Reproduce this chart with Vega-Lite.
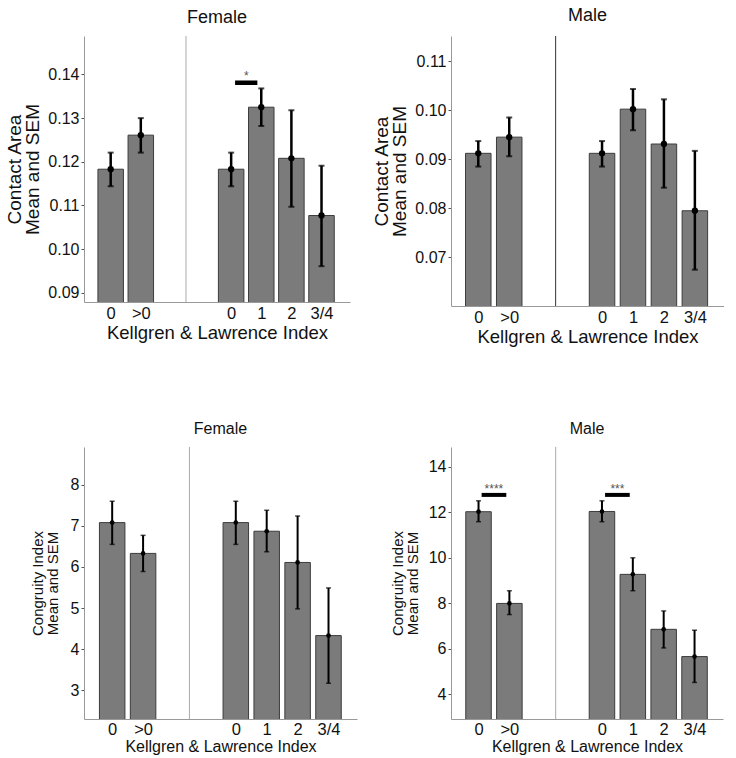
{
  "$schema": "https://vega.github.io/schema/vega-lite/v6.json",
  "padding": {"left": 5, "top": 6, "right": 0, "bottom": 0},
  "config": {"view": {"stroke": null}, "font": "Liberation Sans", "title": {"fontWeight": "normal", "color": "#111", "font": "Liberation Sans", "anchor": "middle"}},
  "datasets": {
    "bars": [
      {"panel": "ca_f", "pos": 1, "group": "0", "mean": 0.1183, "lo": 0.1144, "hi": 0.1221},
      {"panel": "ca_f", "pos": 2, "group": ">0", "mean": 0.1261, "lo": 0.1221, "hi": 0.1300},
      {"panel": "ca_f", "pos": 5, "group": "0", "mean": 0.1183, "lo": 0.1144, "hi": 0.1221},
      {"panel": "ca_f", "pos": 6, "group": "1", "mean": 0.1325, "lo": 0.1282, "hi": 0.1368},
      {"panel": "ca_f", "pos": 7, "group": "2", "mean": 0.1208, "lo": 0.1097, "hi": 0.1318},
      {"panel": "ca_f", "pos": 8, "group": "3/4", "mean": 0.1077, "lo": 0.0961, "hi": 0.1191},
      {"panel": "ca_m", "pos": 1, "group": "0", "mean": 0.0912, "lo": 0.0885, "hi": 0.0937},
      {"panel": "ca_m", "pos": 2, "group": ">0", "mean": 0.0945, "lo": 0.0906, "hi": 0.0985},
      {"panel": "ca_m", "pos": 5, "group": "0", "mean": 0.0912, "lo": 0.0885, "hi": 0.0937},
      {"panel": "ca_m", "pos": 6, "group": "1", "mean": 0.1002, "lo": 0.0959, "hi": 0.1043},
      {"panel": "ca_m", "pos": 7, "group": "2", "mean": 0.0931, "lo": 0.0842, "hi": 0.1022},
      {"panel": "ca_m", "pos": 8, "group": "3/4", "mean": 0.0795, "lo": 0.0675, "hi": 0.0917},
      {"panel": "ci_f", "pos": 1, "group": "0", "mean": 7.08, "lo": 6.55, "hi": 7.60},
      {"panel": "ci_f", "pos": 2, "group": ">0", "mean": 6.33, "lo": 5.89, "hi": 6.77},
      {"panel": "ci_f", "pos": 5, "group": "0", "mean": 7.08, "lo": 6.55, "hi": 7.60},
      {"panel": "ci_f", "pos": 6, "group": "1", "mean": 6.87, "lo": 6.37, "hi": 7.38},
      {"panel": "ci_f", "pos": 7, "group": "2", "mean": 6.11, "lo": 4.98, "hi": 7.24},
      {"panel": "ci_f", "pos": 8, "group": "3/4", "mean": 4.33, "lo": 3.17, "hi": 5.49},
      {"panel": "ci_m", "pos": 1, "group": "0", "mean": 12.03, "lo": 11.59, "hi": 12.51},
      {"panel": "ci_m", "pos": 2, "group": ">0", "mean": 7.99, "lo": 7.50, "hi": 8.55},
      {"panel": "ci_m", "pos": 5, "group": "0", "mean": 12.04, "lo": 11.59, "hi": 12.51},
      {"panel": "ci_m", "pos": 6, "group": "1", "mean": 9.27, "lo": 8.55, "hi": 10.00},
      {"panel": "ci_m", "pos": 7, "group": "2", "mean": 6.85, "lo": 6.03, "hi": 7.66},
      {"panel": "ci_m", "pos": 8, "group": "3/4", "mean": 5.65, "lo": 4.51, "hi": 6.81}
    ],
    "sig": [
      {"panel": "ca_f", "x": 5.13, "x2": 5.87, "xm": 5.5, "y": 0.1381, "label": "*"},
      {"panel": "ci_m", "x": 1.1, "x2": 1.9, "xm": 1.5, "y": 12.77, "label": "****"},
      {"panel": "ci_m", "x": 5.1, "x2": 5.9, "xm": 5.5, "y": 12.77, "label": "***"}
    ]
  },
  "columns": 2,
  "bounds": "flush",
  "spacing": {"row": 141, "column": 94},
  "concat": [
    {
      "width": 266, "height": 266,
      "title": {"text": "Female", "fontSize": 18, "offset": 9},
      "layer": [
        {"data": {"name": "bars"}, "transform": [{"filter": "datum.panel == 'ca_f'"}],
         "mark": {"type": "bar", "size": 25.5, "fill": "#7b7b7b", "stroke": "#3c3c3c", "strokeWidth": 1, "clip": true},
         "encoding": {
           "x": {"field": "pos", "type": "quantitative", "scale": {"domain": [0.28, 8.78], "nice": false, "zero": false},
                 "axis": {"values": [1, 2, 5, 6, 7, 8], "labelExpr": "datum.value == 1 ? '0' : datum.value == 2 ? '>0' : datum.value == 5 ? '0' : datum.value == 6 ? '1' : datum.value == 7 ? '2' : '3/4'", "title": "Kellgren & Lawrence Index", "ticks": false, "grid": false, "labelPadding": 3, "titlePadding": 2, "labelFontSize": 16.5, "titleFontSize": 18.5, "titleFontWeight": "normal", "domainColor": "#999", "labelColor": "#111", "titleColor": "#111", "labelFont": "Liberation Sans", "titleFont": "Liberation Sans"}},
           "y": {"field": "mean", "type": "quantitative", "scale": {"domain": [0.0879, 0.1488], "nice": false, "zero": false},
                 "axis": {"values": [0.09, 0.10, 0.11, 0.12, 0.13, 0.14], "format": ".2f", "title": ["Contact Area", "Mean and SEM"], "grid": false, "tickSize": 3, "tickColor": "#555", "labelPadding": 2, "titlePadding": 5, "labelFontSize": 16, "titleFontSize": 19, "titleLineHeight": 18.5, "titleFontWeight": "normal", "domainColor": "#999", "labelColor": "#111", "titleColor": "#111", "labelFont": "Liberation Sans", "titleFont": "Liberation Sans"}}
         }},
        {"data": {"values": [{}]}, "mark": {"type": "rule", "color": "#aaa", "strokeWidth": 1}, "encoding": {"x": {"datum": 3.5, "type": "quantitative"}}},
        {"data": {"name": "bars"}, "transform": [{"filter": "datum.panel == 'ca_f'"}],
         "mark": {"type": "rule", "color": "#000", "strokeWidth": 2.5},
         "encoding": {"x": {"field": "pos", "type": "quantitative"}, "y": {"field": "lo", "type": "quantitative"}, "y2": {"field": "hi"}}},
        {"data": {"name": "bars"}, "transform": [{"filter": "datum.panel == 'ca_f'"}],
         "mark": {"type": "tick", "orient": "horizontal", "size": 6, "thickness": 2, "color": "#000"},
         "encoding": {"x": {"field": "pos", "type": "quantitative"}, "y": {"field": "lo", "type": "quantitative"}}},
        {"data": {"name": "bars"}, "transform": [{"filter": "datum.panel == 'ca_f'"}],
         "mark": {"type": "tick", "orient": "horizontal", "size": 6, "thickness": 2, "color": "#000"},
         "encoding": {"x": {"field": "pos", "type": "quantitative"}, "y": {"field": "hi", "type": "quantitative"}}},
        {"data": {"name": "bars"}, "transform": [{"filter": "datum.panel == 'ca_f'"}],
         "mark": {"type": "point", "filled": true, "color": "#000", "size": 40, "opacity": 1},
         "encoding": {"x": {"field": "pos", "type": "quantitative"}, "y": {"field": "mean", "type": "quantitative"}}},
        {"data": {"name": "sig"}, "transform": [{"filter": "datum.panel == 'ca_f'"}],
         "mark": {"type": "rule", "color": "#000", "strokeWidth": 4.5},
         "encoding": {"x": {"field": "x", "type": "quantitative"}, "x2": {"field": "x2"}, "y": {"field": "y", "type": "quantitative"}}},
        {"data": {"name": "sig"}, "transform": [{"filter": "datum.panel == 'ca_f'"}],
         "mark": {"type": "text", "fontSize": 12, "color": "#555", "baseline": "alphabetic", "dy": -3, "font": "Liberation Sans"},
         "encoding": {"x": {"field": "xm", "type": "quantitative"}, "y": {"field": "y", "type": "quantitative"}, "text": {"field": "label"}}}
      ]
    },
    {
      "width": 273, "height": 270,
      "title": {"text": "Male", "fontSize": 18, "offset": 11},
      "layer": [
        {"data": {"name": "bars"}, "transform": [{"filter": "datum.panel == 'ca_m'"}],
         "mark": {"type": "bar", "size": 25.5, "fill": "#7b7b7b", "stroke": "#3c3c3c", "strokeWidth": 1, "clip": true},
         "encoding": {
           "x": {"field": "pos", "type": "quantitative", "scale": {"domain": [0.28, 8.78], "nice": false, "zero": false},
                 "axis": {"values": [1, 2, 5, 6, 7, 8], "labelExpr": "datum.value == 1 ? '0' : datum.value == 2 ? '>0' : datum.value == 5 ? '0' : datum.value == 6 ? '1' : datum.value == 7 ? '2' : '3/4'", "title": "Kellgren & Lawrence Index", "ticks": false, "grid": false, "labelPadding": 3, "titlePadding": 2, "labelFontSize": 16.5, "titleFontSize": 18.5, "titleFontWeight": "normal", "domainColor": "#999", "labelColor": "#111", "titleColor": "#111", "labelFont": "Liberation Sans", "titleFont": "Liberation Sans"}},
           "y": {"field": "mean", "type": "quantitative", "scale": {"domain": [0.0601, 0.1151], "nice": false, "zero": false},
                 "axis": {"values": [0.07, 0.08, 0.09, 0.10, 0.11], "format": ".2f", "title": ["Contact Area", "Mean and SEM"], "grid": false, "tickSize": 3, "tickColor": "#555", "labelPadding": 2, "titlePadding": 5, "labelFontSize": 16, "titleFontSize": 19, "titleLineHeight": 18.5, "titleFontWeight": "normal", "domainColor": "#999", "labelColor": "#111", "titleColor": "#111", "labelFont": "Liberation Sans", "titleFont": "Liberation Sans"}}
         }},
        {"data": {"values": [{}]}, "mark": {"type": "rule", "color": "#333", "strokeWidth": 1}, "encoding": {"x": {"datum": 3.5, "type": "quantitative"}}},
        {"data": {"name": "bars"}, "transform": [{"filter": "datum.panel == 'ca_m'"}],
         "mark": {"type": "rule", "color": "#000", "strokeWidth": 2.5},
         "encoding": {"x": {"field": "pos", "type": "quantitative"}, "y": {"field": "lo", "type": "quantitative"}, "y2": {"field": "hi"}}},
        {"data": {"name": "bars"}, "transform": [{"filter": "datum.panel == 'ca_m'"}],
         "mark": {"type": "tick", "orient": "horizontal", "size": 6, "thickness": 2, "color": "#000"},
         "encoding": {"x": {"field": "pos", "type": "quantitative"}, "y": {"field": "lo", "type": "quantitative"}}},
        {"data": {"name": "bars"}, "transform": [{"filter": "datum.panel == 'ca_m'"}],
         "mark": {"type": "tick", "orient": "horizontal", "size": 6, "thickness": 2, "color": "#000"},
         "encoding": {"x": {"field": "pos", "type": "quantitative"}, "y": {"field": "hi", "type": "quantitative"}}},
        {"data": {"name": "bars"}, "transform": [{"filter": "datum.panel == 'ca_m'"}],
         "mark": {"type": "point", "filled": true, "color": "#000", "size": 40, "opacity": 1},
         "encoding": {"x": {"field": "pos", "type": "quantitative"}, "y": {"field": "mean", "type": "quantitative"}}}
      ]
    },
    {
      "width": 273, "height": 272,
      "title": {"text": "Female", "fontSize": 16, "offset": 10},
      "layer": [
        {"data": {"name": "bars"}, "transform": [{"filter": "datum.panel == 'ci_f'"}],
         "mark": {"type": "bar", "size": 25.5, "fill": "#7b7b7b", "stroke": "#3c3c3c", "strokeWidth": 1, "clip": true},
         "encoding": {
           "x": {"field": "pos", "type": "quantitative", "scale": {"domain": [0.25, 8.76], "nice": false, "zero": false},
                 "axis": {"values": [1, 2, 5, 6, 7, 8], "labelExpr": "datum.value == 1 ? '0' : datum.value == 2 ? '>0' : datum.value == 5 ? '0' : datum.value == 6 ? '1' : datum.value == 7 ? '2' : '3/4'", "title": "Kellgren & Lawrence Index", "ticks": false, "grid": false, "labelPadding": 2, "titlePadding": 1, "labelFontSize": 16.5, "titleFontSize": 16, "titleFontWeight": "normal", "domainColor": "#999", "labelColor": "#111", "titleColor": "#111", "labelFont": "Liberation Sans", "titleFont": "Liberation Sans"}},
           "y": {"field": "mean", "type": "quantitative", "scale": {"domain": [2.3, 8.92], "nice": false, "zero": false},
                 "axis": {"values": [3, 4, 5, 6, 7, 8], "format": "d", "title": ["Congruity Index", "Mean and SEM"], "grid": false, "tickSize": 3, "tickColor": "#555", "labelPadding": 2, "titlePadding": 10, "labelFontSize": 16, "titleFontSize": 15, "titleLineHeight": 14.5, "titleFontWeight": "normal", "domainColor": "#999", "labelColor": "#111", "titleColor": "#111", "labelFont": "Liberation Sans", "titleFont": "Liberation Sans"}}
         }},
        {"data": {"values": [{}]}, "mark": {"type": "rule", "color": "#aaa", "strokeWidth": 1}, "encoding": {"x": {"datum": 3.5, "type": "quantitative"}}},
        {"data": {"name": "bars"}, "transform": [{"filter": "datum.panel == 'ci_f'"}],
         "mark": {"type": "rule", "color": "#000", "strokeWidth": 2},
         "encoding": {"x": {"field": "pos", "type": "quantitative"}, "y": {"field": "lo", "type": "quantitative"}, "y2": {"field": "hi"}}},
        {"data": {"name": "bars"}, "transform": [{"filter": "datum.panel == 'ci_f'"}],
         "mark": {"type": "tick", "orient": "horizontal", "size": 5, "thickness": 1.5, "color": "#000"},
         "encoding": {"x": {"field": "pos", "type": "quantitative"}, "y": {"field": "lo", "type": "quantitative"}}},
        {"data": {"name": "bars"}, "transform": [{"filter": "datum.panel == 'ci_f'"}],
         "mark": {"type": "tick", "orient": "horizontal", "size": 5, "thickness": 1.5, "color": "#000"},
         "encoding": {"x": {"field": "pos", "type": "quantitative"}, "y": {"field": "hi", "type": "quantitative"}}},
        {"data": {"name": "bars"}, "transform": [{"filter": "datum.panel == 'ci_f'"}],
         "mark": {"type": "point", "filled": true, "color": "#000", "size": 22, "opacity": 1},
         "encoding": {"x": {"field": "pos", "type": "quantitative"}, "y": {"field": "mean", "type": "quantitative"}}}
      ]
    },
    {
      "width": 272, "height": 272,
      "title": {"text": "Male", "fontSize": 16, "offset": 10},
      "layer": [
        {"data": {"name": "bars"}, "transform": [{"filter": "datum.panel == 'ci_m'"}],
         "mark": {"type": "bar", "size": 25.5, "fill": "#7b7b7b", "stroke": "#3c3c3c", "strokeWidth": 1, "clip": true},
         "encoding": {
           "x": {"field": "pos", "type": "quantitative", "scale": {"domain": [0.27, 8.76], "nice": false, "zero": false},
                 "axis": {"values": [1, 2, 5, 6, 7, 8], "labelExpr": "datum.value == 1 ? '0' : datum.value == 2 ? '>0' : datum.value == 5 ? '0' : datum.value == 6 ? '1' : datum.value == 7 ? '2' : '3/4'", "title": "Kellgren & Lawrence Index", "ticks": false, "grid": false, "labelPadding": 2, "titlePadding": 1, "labelFontSize": 16.5, "titleFontSize": 16, "titleFontWeight": "normal", "domainColor": "#999", "labelColor": "#111", "titleColor": "#111", "labelFont": "Liberation Sans", "titleFont": "Liberation Sans"}},
           "y": {"field": "mean", "type": "quantitative", "scale": {"domain": [2.9, 14.88], "nice": false, "zero": false},
                 "axis": {"values": [4, 6, 8, 10, 12, 14], "format": "d", "title": ["Congruity Index", "Mean and SEM"], "grid": false, "tickSize": 3, "tickColor": "#555", "labelPadding": 2, "titlePadding": 8, "labelFontSize": 16, "titleFontSize": 15, "titleLineHeight": 14.5, "titleFontWeight": "normal", "domainColor": "#999", "labelColor": "#111", "titleColor": "#111", "labelFont": "Liberation Sans", "titleFont": "Liberation Sans"}}
         }},
        {"data": {"values": [{}]}, "mark": {"type": "rule", "color": "#aaa", "strokeWidth": 1}, "encoding": {"x": {"datum": 3.5, "type": "quantitative"}}},
        {"data": {"name": "bars"}, "transform": [{"filter": "datum.panel == 'ci_m'"}],
         "mark": {"type": "rule", "color": "#000", "strokeWidth": 2},
         "encoding": {"x": {"field": "pos", "type": "quantitative"}, "y": {"field": "lo", "type": "quantitative"}, "y2": {"field": "hi"}}},
        {"data": {"name": "bars"}, "transform": [{"filter": "datum.panel == 'ci_m'"}],
         "mark": {"type": "tick", "orient": "horizontal", "size": 5, "thickness": 1.5, "color": "#000"},
         "encoding": {"x": {"field": "pos", "type": "quantitative"}, "y": {"field": "lo", "type": "quantitative"}}},
        {"data": {"name": "bars"}, "transform": [{"filter": "datum.panel == 'ci_m'"}],
         "mark": {"type": "tick", "orient": "horizontal", "size": 5, "thickness": 1.5, "color": "#000"},
         "encoding": {"x": {"field": "pos", "type": "quantitative"}, "y": {"field": "hi", "type": "quantitative"}}},
        {"data": {"name": "bars"}, "transform": [{"filter": "datum.panel == 'ci_m'"}],
         "mark": {"type": "point", "filled": true, "color": "#000", "size": 22, "opacity": 1},
         "encoding": {"x": {"field": "pos", "type": "quantitative"}, "y": {"field": "mean", "type": "quantitative"}}},
        {"data": {"name": "sig"}, "transform": [{"filter": "datum.panel == 'ci_m'"}],
         "mark": {"type": "rule", "color": "#000", "strokeWidth": 4},
         "encoding": {"x": {"field": "x", "type": "quantitative"}, "x2": {"field": "x2"}, "y": {"field": "y", "type": "quantitative"}}},
        {"data": {"name": "sig"}, "transform": [{"filter": "datum.panel == 'ci_m'"}],
         "mark": {"type": "text", "fontSize": 12, "color": "#555", "baseline": "alphabetic", "dy": -2, "font": "Liberation Sans"},
         "encoding": {"x": {"field": "xm", "type": "quantitative"}, "y": {"field": "y", "type": "quantitative"}, "text": {"field": "label"}}}
      ]
    }
  ]
}
